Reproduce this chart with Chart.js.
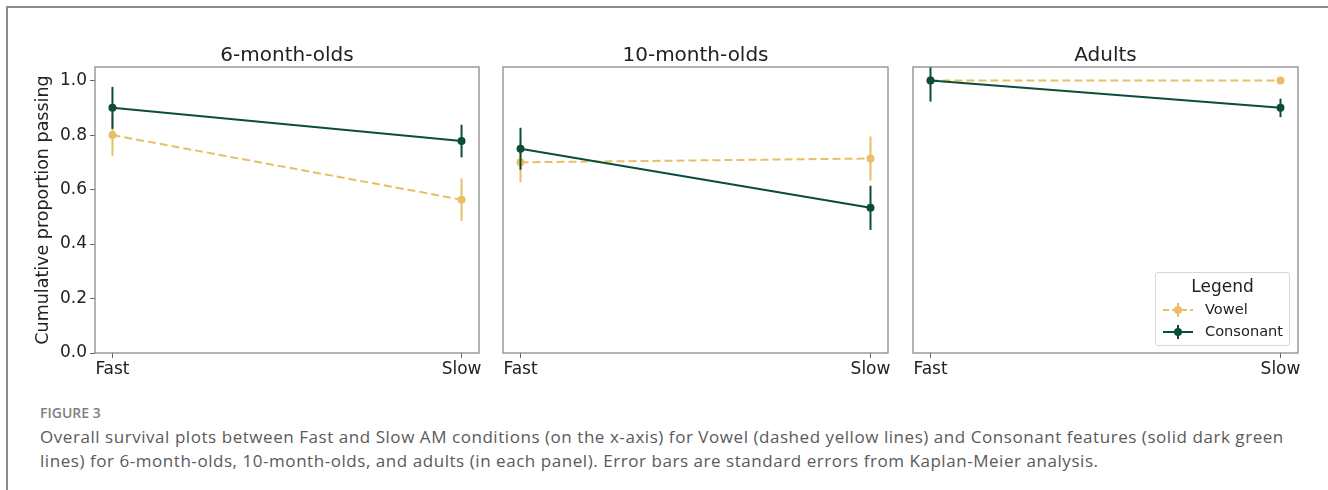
<!DOCTYPE html>
<html>
<head>
<meta charset="utf-8">
<script src="https://cdn.jsdelivr.net/npm/chart.js@4.4.1/dist/chart.umd.min.js"></script>
<style>
  body { margin:0; width:1328px; height:490px; background:#fff; position:relative; overflow:hidden; }
  #frame { position:absolute; left:6px; top:6px; width:1330px; height:500px; border-top:2px solid #8c8c8c; border-left:2px solid #8c8c8c; }
  canvas { position:absolute; }
  #legend { position:absolute; left:1155px; top:272px; width:133px; height:72px; border:1px solid #d6d6d6; border-radius:3px; background:rgba(255,255,255,0.85); font-family:"DejaVu Sans"; color:#222; }
  #legend .ttl { position:absolute; left:0; width:100%; top:3px; text-align:center; font-size:17px; }
  #legend .row { position:absolute; left:6px; font-size:14.6px; line-height:18px; }
  #legend svg { vertical-align:middle; margin-right:11px; }
  #figlabel { position:absolute; left:40px; top:403px; font-family:"Open Sans"; font-weight:600; font-size:14px; color:#808080; }
  .cap { position:absolute; left:40px; font-family:"Open Sans"; font-size:17px; letter-spacing:0.55px; color:#5a5a5a; white-space:nowrap; }
</style>
</head>
<body>
<div id="frame"></div>
<canvas id="c1" width="490" height="356" style="left:0;top:34px"></canvas>
<canvas id="c2" width="410" height="356" style="left:490px;top:34px"></canvas>
<canvas id="c3" width="428" height="356" style="left:900px;top:34px"></canvas>
<div id="legend">
  <div class="ttl">Legend</div>
  <div class="row" style="top:27px"><svg width="32" height="16"><line x1="1" y1="8" x2="31" y2="8" stroke="#e8bf66" stroke-width="2" stroke-dasharray="6,3"/><line x1="16" y1="1" x2="16" y2="15" stroke="#e8bf66" stroke-width="2"/><circle cx="16" cy="8" r="4" fill="#e8bf66"/></svg>Vowel</div>
  <div class="row" style="top:49px"><svg width="32" height="16"><line x1="1" y1="8" x2="31" y2="8" stroke="#0b4d38" stroke-width="2"/><line x1="16" y1="1" x2="16" y2="15" stroke="#0b4d38" stroke-width="2"/><circle cx="16" cy="8" r="4" fill="#0b4d38"/></svg>Consonant</div>
</div>
<div id="figlabel">FIGURE 3</div>
<div class="cap" style="top:425px">Overall survival plots between Fast and Slow AM conditions (on the x-axis) for Vowel (dashed yellow lines) and Consonant features (solid dark green</div>
<div class="cap" style="top:449px">lines) for 6-month-olds, 10-month-olds, and adults (in each panel). Error bars are standard errors from Kaplan-Meier analysis.</div>
<script>
// data
const conditions = ["Fast", "Slow"];
const panelTitles = ["6-month-olds", "10-month-olds", "Adults"];
const yTicks = [0.0, 0.2, 0.4, 0.6, 0.8, 1.0];

const vowel6m = [0.80, 0.563];
const vowel6mErr = [0.077, 0.078];
const consonant6m = [0.90, 0.778];
const consonant6mErr = [0.077, 0.06];

const vowel10m = [0.70, 0.714];
const vowel10mErr = [0.074, 0.081];
const consonant10m = [0.75, 0.533];
const consonant10mErr = [0.077, 0.081];

const vowelAdult = [1.0, 1.0];
const vowelAdultErr = [0, 0];
const consonantAdult = [1.0, 0.90];
const consonantAdultErr = [0.077, 0.034];

const yellow = "#e8bf66";
const green = "#0b4d38";
const font = "DejaVu Sans";

// error bars, box round the plot, title centred over the plot area
const errorBars = {
  id: "errorBars",
  beforeDatasetDraw(chart, args) {
    const ds = chart.data.datasets[args.index];
    const y = chart.scales.y, a = chart.chartArea, ctx = chart.ctx;
    ctx.save();
    ctx.beginPath();
    ctx.rect(a.left, a.top, a.right - a.left, a.bottom - a.top);
    ctx.clip();
    ctx.strokeStyle = ds.borderColor;
    ctx.lineWidth = 2;
    args.meta.data.forEach((pt, i) => {
      const e = ds.errors[i];
      if (!e) return;
      const v = ds.data[i].y;
      ctx.beginPath();
      ctx.moveTo(pt.x, y.getPixelForValue(v - e));
      ctx.lineTo(pt.x, y.getPixelForValue(v + e));
      ctx.stroke();
    });
    ctx.restore();
  },
  afterDraw(chart, args, opts) {
    const a = chart.chartArea, ctx = chart.ctx;
    ctx.save();
    ctx.strokeStyle = "#8a8a8a";
    ctx.lineWidth = 1.3;
    ctx.strokeRect(a.left, a.top, a.right - a.left, a.bottom - a.top);
    ctx.fillStyle = "#222";
    ctx.font = "20px '" + font + "'";
    ctx.textAlign = "center";
    ctx.textBaseline = "alphabetic";
    ctx.fillText(opts.title, (a.left + a.right) / 2, a.top - 6);
    ctx.restore();
  }
};

function pts(arr) { return arr.map((v, i) => ({ x: i, y: v })); }

function makePanel(id, title, vow, vowErr, con, conErr, showY, padL, padR) {
  new Chart(document.getElementById(id), {
    type: "line",
    data: {
      datasets: [
        { label: "Vowel", data: pts(vow), errors: vowErr, borderColor: yellow, backgroundColor: yellow,
          borderDash: [8, 4], borderWidth: 2, pointRadius: 4, pointHoverRadius: 4, pointBorderWidth: 0, order: 2 },
        { label: "Consonant", data: pts(con), errors: conErr, borderColor: green, backgroundColor: green,
          borderWidth: 2, pointRadius: 4, pointHoverRadius: 4, pointBorderWidth: 0, order: 1 }
      ]
    },
    options: {
      responsive: false,
      animation: false,
      layout: { padding: { left: padL, right: padR, top: 33, bottom: 0 } },
      plugins: {
        legend: { display: false },
        tooltip: { enabled: false },
        title: { display: false },
        errorBars: { title: title }
      },
      scales: {
        x: {
          type: "linear", min: -0.05, max: 1.05,
          afterBuildTicks: s => { s.ticks = conditions.map((c, i) => ({ value: i })); },
          ticks: { callback: v => conditions[v], color: "#222", font: { family: font, size: 17 }, padding: 1, autoSkip: false, maxRotation: 0 },
          grid: { drawOnChartArea: false, tickLength: 5, color: "#666" },
          border: { display: false },
          afterFit: s => { s.height = 37; }
        },
        y: {
          min: 0, max: 1.05,
          display: showY,
          afterBuildTicks: s => { s.ticks = yTicks.map(v => ({ value: v })); },
          ticks: { callback: v => v.toFixed(1), color: "#222", font: { family: font, size: 17 }, padding: 3 },
          grid: { drawOnChartArea: false, tickLength: 5, color: "#666" },
          border: { display: false },
          title: { display: true, text: "Cumulative proportion passing", color: "#222", font: { family: font, size: 17.5 }, padding: 4 },
          afterFit: s => { if (showY) s.width = 66; }
        }
      }
    },
    plugins: [errorBars]
  });
}

makePanel("c1", panelTitles[0], vowel6m, vowel6mErr, consonant6m, consonant6mErr, true, 29, 11);
makePanel("c2", panelTitles[1], vowel10m, vowel10mErr, consonant10m, consonant10mErr, false, 13, 12);
makePanel("c3", panelTitles[2], vowelAdult, vowelAdultErr, consonantAdult, consonantAdultErr, false, 13, 30);
</script>
</body>
</html>
